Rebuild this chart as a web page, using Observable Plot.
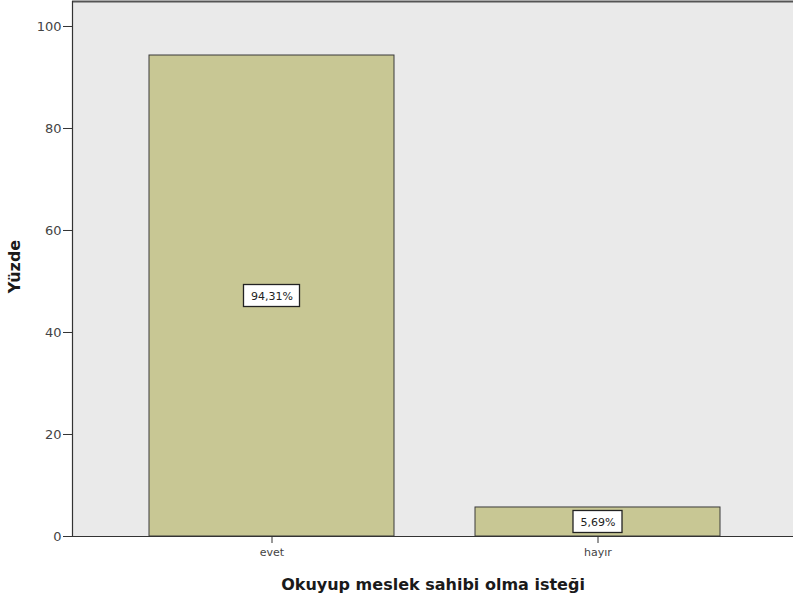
<!DOCTYPE html>
<html>
<head>
<meta charset="utf-8">
<script src="https://cdn.jsdelivr.net/npm/d3@7"></script>
<script src="https://cdn.jsdelivr.net/npm/@observablehq/plot@0.6"></script>
<style>
  body { margin: 0; background: #ffffff; }
  #chart svg { display: block; }
</style>
</head>
<body>
<div id="chart"></div>
<script>
const categories = ["evet", "hayır"];
const percents = [94.31, 5.69];
const valueLabels = ["94,31%", "5,69%"];
const yTicks = [0, 20, 40, 60, 80, 100];
const yMax = 104.9;
const xTitle = "Okuyup meslek sahibi olma isteği";
const yTitle = "Yüzde";

const data = categories.map((c, i) => ({cat: c, pct: percents[i], label: valueLabels[i], mid: percents[i] / 2}));

const font = "DejaVu Sans, Verdana, sans-serif";

const chart = Plot.plot({
  width: 793,
  height: 601,
  marginTop: 1,
  marginBottom: 65,
  marginLeft: 72,
  marginRight: 0,
  style: {fontFamily: font, fontSize: "11px", color: "#333"},
  x: {domain: categories, paddingInner: 0.25, paddingOuter: 0.23, align: 0.513, label: null},
  y: {domain: [0, yMax], label: null},
  marks: [
    Plot.frame({fill: "#eaeaea", stroke: null}),
    Plot.barY(data, {x: "cat", y: "pct", fill: "#c8c794", stroke: "#3a3a3a", strokeWidth: 1}),
    Plot.rect(data.filter(d => d.cat === "evet"), {x: "cat", y1: "mid", y2: "mid", insetLeft: 94.5, insetRight: 94.5, insetTop: -11, insetBottom: -11, fill: "white", stroke: "#222", strokeWidth: 1.3}),
    Plot.rect(data.filter(d => d.cat === "hayır"), {x: "cat", y1: "mid", y2: "mid", insetLeft: 98, insetRight: 98, insetTop: -11, insetBottom: -11, fill: "white", stroke: "#222", strokeWidth: 1.3}),
    Plot.text(data, {x: "cat", y: "mid", text: "label", fontSize: 11, fill: "#222", fontFamily: font}),
    Plot.ruleY([0], {stroke: "#333", strokeWidth: 1.2}),
    Plot.ruleY([yMax], {stroke: "#555", strokeWidth: 2}),
    Plot.frame({anchor: "left", stroke: "#333", strokeWidth: 1.2}),
    Plot.axisY(yTicks, {anchor: "left", tickSize: 9, tickPadding: 2, fontSize: 13, label: null, stroke: "#333", fill: "#444"}),
    Plot.axisX({anchor: "bottom", tickSize: 7, tickPadding: 5, fontSize: 11, label: null, stroke: "#333", fill: "#444"}),
    Plot.text([xTitle], {frameAnchor: "bottom", dy: 48, lineAnchor: "middle", fontSize: 16, fontWeight: "bold", fill: "#1a1a1a", fontFamily: font}),
    Plot.text([yTitle], {frameAnchor: "left", dx: -58, dy: -2.5, textAnchor: "middle", lineAnchor: "middle", rotate: -90, fontSize: 16, fontWeight: "bold", fill: "#1a1a1a", fontFamily: font})
  ]
});
document.getElementById("chart").appendChild(chart);
</script>
</body>
</html>
